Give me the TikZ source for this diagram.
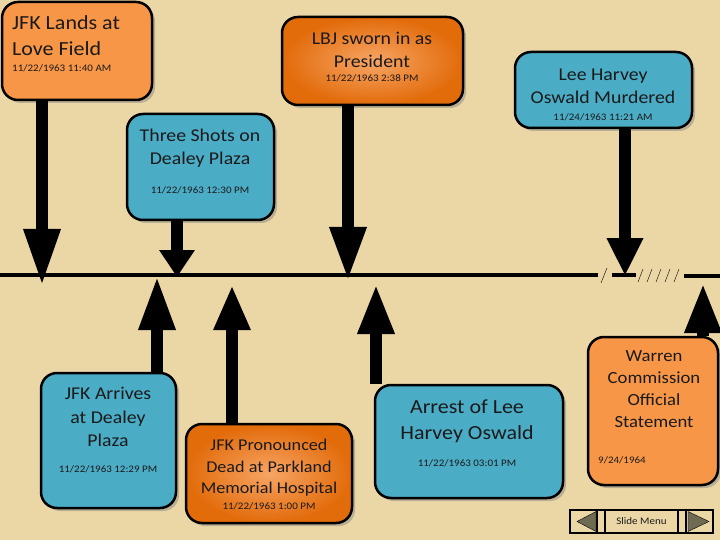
\documentclass[tikz,border=0pt]{standalone}
\usepackage{fontspec}
\setmainfont{Carlito}[FakeStretch=1.1]
\usetikzlibrary{arrows.meta, shadows}

\definecolor{parch}{HTML}{EBD7A6}
\definecolor{orng}{HTML}{F79646}
\definecolor{orngD}{HTML}{E26B0A}
\definecolor{orngL}{HTML}{F7A565}
\definecolor{sky}{HTML}{4BACC6}
\definecolor{ink}{HTML}{1A1A1A}
\definecolor{btn}{HTML}{6F6A52}

\tikzset{
  evt/.style={draw=black, line width=2.5pt, rounded corners=16pt,
    drop shadow={shadow xshift=3pt, shadow yshift=-3pt, opacity=.45}},
  ttl/.style={font=\fontsize{18}{22.5}\selectfont, align=center, anchor=north, inner sep=0pt, text=ink},
  dte/.style={font=\fontsize{10}{12}\selectfont, anchor=base, inner sep=0pt, text=ink},
  stem/.style={line width=12pt, -{Triangle[length=#1, width=34pt]}}
}

\begin{document}
\begin{tikzpicture}[x=1pt,y=-1pt]
\useasboundingbox (0,0) rectangle (720,540);
\fill[parch] (0,0) rectangle (720,540);

% timeline with break marks
\draw[line width=4pt] (0,275) -- (598,275);
\draw[thin] (601,283) -- (607,268);
\draw[line width=4pt] (612,275) -- (636,275);
\foreach \x in {638,647,656,665,674}
  \draw[thin] (\x,282) -- (\x+5,269);
\draw[line width=4pt] (684,276) -- (720,276);

% events above the line
\node[evt, fill=orng, minimum width=150pt, minimum height=98pt] (land) at (77,51) {};
\node[ttl, font=\fontsize{20}{26}\selectfont, anchor=north west, align=left] (landT) at (12,15) {JFK Lands at\\Love Field};
\node[dte, anchor=base west] (landD) at (12,72) {11/22/1963 11:40 AM};

\node[evt, inner color=orngL, outer color=orngD, minimum width=181pt, minimum height=88pt] (sworn) at (372.5,61) {};
\node[ttl] (swornT) at (372,32) {LBJ sworn in as\\President};
\node[dte] (swornD) at (372,82) {11/22/1963 2:38 PM};

\node[evt, fill=sky, minimum width=177pt, minimum height=76pt] (murder) at (603.5,90) {};
\node[ttl] (murderT) at (603,69) {Lee Harvey\\Oswald Murdered};
\node[dte] (murderD) at (603,121) {11/24/1963 11:21 AM};

\node[evt, fill=sky, minimum width=147pt, minimum height=106pt] (shots) at (200.5,167) {};
\node[ttl] (shotsT) at (200,129) {Three Shots on\\Dealey Plaza};
\node[dte] (shotsD) at (200,194) {11/22/1963 12:30 PM};

% events below the line
\node[evt, fill=sky, minimum width=135pt, minimum height=135pt] (arrives) at (108.5,440.5) {};
\node[ttl, font=\fontsize{18}{23.5}\selectfont] (arrivesT) at (108,387) {JFK Arrives\\at Dealey\\Plaza};
\node[dte] (arrivesD) at (108,472) {11/22/1963 12:29 PM};

\node[evt, inner color=orngL, outer color=orngD, minimum width=166pt, minimum height=99pt] (dead) at (269,473.5) {};
\node[ttl, font=\fontsize{16.5}{21.5}\selectfont] (deadT) at (269,439) {JFK Pronounced\\Dead at Parkland\\Memorial Hospital};
\node[dte] (deadD) at (269,509) {11/22/1963 1:00 PM};

\node[evt, fill=sky, minimum width=188pt, minimum height=113pt] (arrest) at (469,441.5) {};
\node[ttl, font=\fontsize{20}{26}\selectfont] (arrestT) at (467,400) {Arrest of Lee\\Harvey Oswald};
\node[dte] (arrestD) at (467,466) {11/22/1963 03:01 PM};

\node[evt, fill=orng, minimum width=130pt, minimum height=148pt] (warren) at (653,411) {};
\node[ttl, font=\fontsize{17}{22}\selectfont] (warrenT) at (654,350) {Warren\\Commission\\Official\\Statement};
\node[dte, anchor=base west] (warrenD) at (598,463) {9/24/1964};

% arrow tips on the timeline
\coordinate (t1) at (42,286);
\coordinate (t2) at (177,277);
\coordinate (t3) at (348,281);
\coordinate (t4) at (625,276);
\coordinate (b1) at (157,276);
\coordinate (b2) at (232,285);
\coordinate (b3) at (376,284);
\coordinate (b4) at (703,283);

\draw[stem=57pt] (land.south -| t1) -- (t1);
\draw[stem=27pt] (shots.south -| t2) -- (t2);
\draw[stem=54pt] (sworn.south -| t3) -- (t3);
\draw[stem=38pt] (murder.south -| t4) -- (t4);
\draw[stem=54pt] (arrives.north -| b1) -- (b1);
\draw[stem=45pt] (dead.north -| b2) -- (b2);
\draw[stem=50pt] (arrest.north -| b3) -- (b3);
\draw[stem=50pt] (warren.north -| b4) -- (b4);

% slide menu buttons
\draw[line width=1.2pt] (570,510) rectangle (713,533);
\draw[line width=1.2pt] (597,510) -- (597,533);
\node[draw, line width=2pt, minimum width=73pt, minimum height=23pt, inner sep=0pt,
  font=\fontsize{10}{12}\selectfont, text=ink] (menu) at (641.5,521.5) {Slide Menu};
\draw[line width=1.2pt] (686,510) -- (686,533);
\filldraw[fill=btn, draw=black, thin] (577,521.5) -- (596,511.5) -- (596,531.5) -- cycle;
\filldraw[fill=btn, draw=black, thin] (709,521.5) -- (688,511.5) -- (688,531.5) -- cycle;
\end{tikzpicture}
\end{document}
